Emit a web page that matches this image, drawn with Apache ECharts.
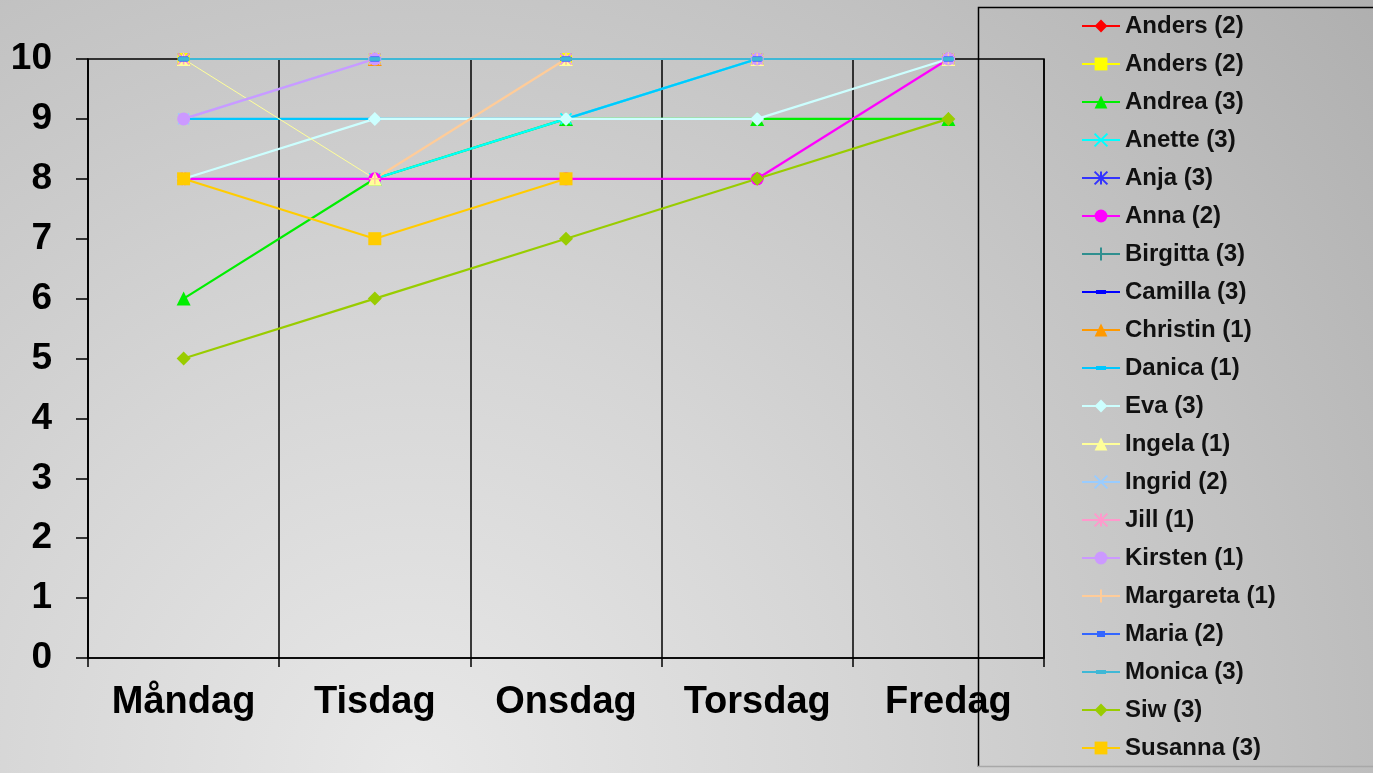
<!DOCTYPE html>
<html>
<head>
<meta charset="utf-8">
<script src="https://cdn.jsdelivr.net/npm/echarts@6/dist/echarts.min.js"></script>
<style>
html,body{margin:0;padding:0;overflow:hidden;}
#chart{width:1373px;height:773px;}
</style>
</head>
<body>
<div id="chart"></div>
<script>
// ---- data ----
const days = ['Måndag', 'Tisdag', 'Onsdag', 'Torsdag', 'Fredag'];
const yTicks = [0, 1, 2, 3, 4, 5, 6, 7, 8, 9, 10];

const anders1   = [10, 10, 10, 10, 10];
const anders2   = [10, 10, 10, 10, 10];
const andrea    = [6, 8, 9, 9, 9];
const anette    = [8, 8, 9, 10, 10];
const anja      = [10, 10, 10, 10, 10];
const anna      = [8, 8, 8, 8, 10];
const birgitta  = [10, 10, 10, 10, 10];
const camilla   = [10, 10, 10, 10, 10];
const christin  = [10, 10, 10, 10, 10];
const danica    = [9, 9, 9, 10, 10];
const eva       = [8, 9, 9, 9, 10];
const ingela    = [10, 8, 10, 10, 10];
const ingrid    = [9, 10, 10, 10, 10];
const jill      = [10, 10, 10, 10, 10];
const kirsten   = [9, 10, null, 10, 10];
const margareta = [null, 8, 10, 10, 10];
const maria     = [10, 10, 10, 10, 10];
const monica    = [10, 10, 10, 10, 10];
const siw       = [5, 6, 7, 8, 9];
const susanna   = [8, 7, 8, null, null];

// the two "Anders (2)" entries are distinct series; a zero-width space keeps both legend entries
const seriesNames = ['Anders (2)', 'Anders (2)\u200B', 'Andrea (3)', 'Anette (3)', 'Anja (3)', 'Anna (2)',
  'Birgitta (3)', 'Camilla (3)', 'Christin (1)', 'Danica (1)', 'Eva (3)', 'Ingela (1)', 'Ingrid (2)',
  'Jill (1)', 'Kirsten (1)', 'Margareta (1)', 'Maria (2)', 'Monica (3)', 'Siw (3)', 'Susanna (3)'];
const seriesValues = [anders1, anders2, andrea, anette, anja, anna, birgitta, camilla, christin, danica,
  eva, ingela, ingrid, jill, kirsten, margareta, maria, monica, siw, susanna];

// ---- styles ----
const X = 'path://M0 0L10 10M10 0L0 10';
const STAR = 'path://M0 0L10 10M10 0L0 10M5 0L5 10';
const PLUS = 'path://M5 0L5 10M0 5L10 5';
const DASH = 'path://M0 0L10 0L10 3.5L0 3.5Z';
const SMALLRECT = 'path://M0 0L10 0L10 6L0 6Z';
const DASH_ICON = 'path://M0 1L38 1L38 3L0 3Z M14 0L24 0L24 4L14 4Z';
const SMALLRECT_ICON = 'path://M0 2L38 2L38 4L0 4Z M15 0L23 0L23 6L15 6Z';
const styles = [
  {c:'#ff0000', s:'diamond', z:11},
  {c:'#ffff00', s:'rect', z:12},
  {c:'#00ee00', s:'triangle', z:14},
  {c:'#00ffff', s:X, z:11, stroke:true},
  {c:'#3333ff', s:STAR, z:11, stroke:true},
  {c:'#ff00ff', s:'circle', z:13},
  {c:'#2f8f8f', s:PLUS, z:11, stroke:true},
  {c:'#0000ff', s:DASH, z:11, keep:true, icon:DASH_ICON},
  {c:'#ff9900', s:'triangle', z:14},
  {c:'#00c8ff', s:DASH, z:11, keep:true, icon:DASH_ICON},
  {c:'#ccffff', s:'diamond', z:14},
  {c:'#ffff99', s:'triangle', z:14, w:1},
  {c:'#99ccff', s:X, z:11, stroke:true},
  {c:'#ff99cc', s:STAR, z:11, stroke:true},
  {c:'#cc99ff', s:'circle', z:13},
  {c:'#ffcc99', s:PLUS, z:11, stroke:true},
  {c:'#3366ff', s:SMALLRECT, z:9, keep:true, icon:SMALLRECT_ICON},
  {c:'#3fb8d6', s:DASH, z:11, keep:true, icon:DASH_ICON},
  {c:'#99cc00', s:'diamond', z:14},
  {c:'#ffcc00', s:'rect', z:13}
];

const FONT = '"Liberation Sans", Arial, sans-serif';

const series = seriesNames.map((n, i) => {
  const st = styles[i];
  return {
    name: n,
    type: 'line',
    data: seriesValues[i],
    symbol: st.s,
    symbolSize: st.z,
    symbolKeepAspect: !!st.keep,
    showAllSymbol: true,
    connectNulls: false,
    color: st.c,
    lineStyle: {color: st.c, width: st.w || 2.2},
    itemStyle: st.stroke ? {color: st.c, borderColor: st.c, borderWidth: 1.6} : {color: st.c, borderWidth: 0},
    emphasis: {disabled: true},
    animation: false
  };
});

const legendData = seriesNames.map((n, i) => {
  const item = {name: n};
  if (styles[i].icon) {
    item.icon = styles[i].icon;
    item.itemStyle = {color: styles[i].c, borderWidth: 0};
  }
  return item;
});

const chart = echarts.init(document.getElementById('chart'), null, {renderer: 'canvas'});
chart.setOption({
  animation: false,
  textStyle: {fontFamily: FONT},
  graphic: [
    {
      type: 'rect', z: -100, silent: true,
      shape: {x: 0, y: 0, width: 1373, height: 773},
      style: {
        fill: {
          type: 'radial', x: 0.3, y: 1.0, r: 1.6,
          colorStops: [
            {offset: 0, color: '#e8e8e8'},
            {offset: 0.35, color: '#d6d6d6'},
            {offset: 0.7, color: '#c2c2c2'},
            {offset: 1, color: '#afafaf'}
          ]
        }
      }
    },
    {
      type: 'polyline', z: 1, silent: true,
      shape: {points: [[978.5, 767], [978.5, 7.5], [1373, 7.5]]},
      style: {stroke: '#000', lineWidth: 1.5, fill: null}
    },
    {
      type: 'line', z: 1, silent: true,
      shape: {x1: 978, y1: 766.5, x2: 1373, y2: 766.5},
      style: {stroke: '#a8a8a8', lineWidth: 1.5}
    }
  ],
  legend: {
    orient: 'vertical',
    left: 1081,
    top: 14,
    padding: 0,
    itemWidth: 38,
    itemHeight: 16,
    itemGap: 14,
    selectedMode: false,
    data: legendData,
    textStyle: {fontSize: 24, fontWeight: 'bold', color: '#111', fontFamily: FONT}
  },
  grid: {
    left: 88, right: 329, top: 59, bottom: 115,
    show: true, borderColor: '#000', borderWidth: 1.5, backgroundColor: 'transparent'
  },
  xAxis: {
    type: 'category',
    data: days,
    boundaryGap: true,
    axisLine: {lineStyle: {color: '#000', width: 1.5}},
    axisTick: {show: true, length: 9, lineStyle: {color: '#000', width: 1.5}},
    axisLabel: {fontSize: 38, fontWeight: 'bold', color: '#000', margin: 26, fontFamily: FONT, interval: 0},
    splitLine: {show: true, lineStyle: {color: '#000', width: 1.5}}
  },
  yAxis: {
    type: 'value',
    min: 0, max: 10, interval: 1,
    axisLine: {show: true, lineStyle: {color: '#000', width: 1.5}},
    axisTick: {show: true, length: 12, lineStyle: {color: '#000', width: 1.5}},
    axisLabel: {fontSize: 37, fontWeight: 'bold', color: '#000', margin: 36, fontFamily: FONT,
      formatter: v => yTicks.includes(v) ? String(v) : ''},
    splitLine: {show: false}
  },
  series: series
});
</script>
</body>
</html>
